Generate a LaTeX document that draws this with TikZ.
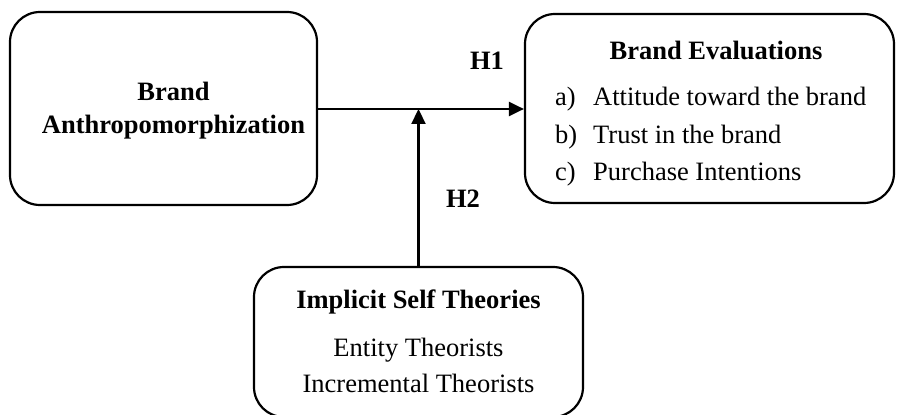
\documentclass[tikz,border=0pt]{standalone}
\usepackage{fontspec}
\setmainfont{Liberation Serif}
\usetikzlibrary{arrows.meta}
\begin{document}
\begin{tikzpicture}[x=1pt,y=1pt,
  box/.style={draw,line width=2.2pt,rounded corners=30pt,inner sep=0pt},
  txt/.style={font=\fontsize{26.5}{33}\selectfont,inner sep=0pt},
  btxt/.style={font=\fontsize{26.5}{33}\selectfont\bfseries,inner sep=0pt},
  conn/.style={line width=2.2pt,-{Triangle[length=15pt,width=14pt]}}]
\useasboundingbox (0,0) rectangle (898,415);
% boxes
\node[box,minimum width=307pt,minimum height=193pt] (ba) at (163.5,306.5) {};
\node[box,minimum width=369pt,minimum height=189pt] (be) at (709.5,306.5) {};
\node[box,minimum width=329pt,minimum height=150pt] (ist) at (418.5,73) {};
% left text
\node[btxt,align=center] (batxt) at (173.5,304) {Brand\\Anthropomorphization};
% right text
\node[btxt] (betitle) at (716,365) {Brand Evaluations};
\node[txt,anchor=west] (bea) at (555,316) {\makebox[38pt][l]{a)}Attitude toward the brand};
\node[txt,anchor=west] (beb) at (555,278) {\makebox[38pt][l]{b)}Trust in the brand};
\node[txt,anchor=west] (bec) at (555,241) {\makebox[38pt][l]{c)}Purchase Intentions};
% bottom text
\node[btxt] (isttitle) at (418.5,113) {Implicit Self Theories};
\node[txt] (iste) at (418.5,65) {Entity Theorists};
\node[txt] (isti) at (418.5,32) {Incremental Theorists};
% labels
\node[btxt] (h1) at (487,354) {H1};
\node[btxt] (h2) at (463,216) {H2};
% connectors
\coordinate (j) at (418.5,306);
\draw[conn] (ba.east |- j) -- (be.west |- j);
\draw[conn] (ist.north -| j) -- (j);
\end{tikzpicture}
\end{document}
